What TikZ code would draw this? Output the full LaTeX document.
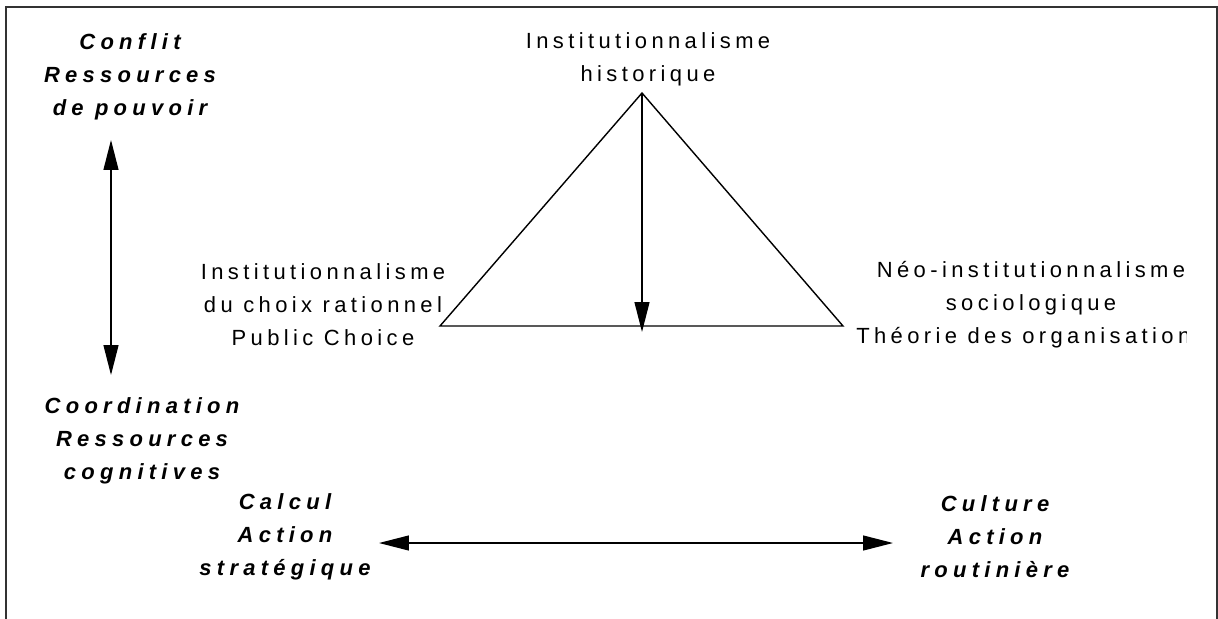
\documentclass[tikz,border=0pt]{standalone}
\usepackage{fontspec}
\newfontfamily\diagfont{Liberation Sans}[LetterSpace=20]
\newfontfamily\axisfont{Liberation Sans}[LetterSpace=24]
\usetikzlibrary{arrows.meta}

\tikzset{
  theory/.style={align=center, inner sep=0pt, text=black,
    font=\diagfont\fontsize{12.5}{18.8}\selectfont},
  axislabel/.style={theory,
    font=\axisfont\fontsize{12.5}{18.8}\selectfont\bfseries\itshape},
  edge/.style={line width=0.8pt, line join=miter},
  twoway/.style={line width=0.7pt,
    {Triangle[length=0.6cm,width=0.3cm]}-{Triangle[length=0.6cm,width=0.3cm]}},
  oneway/.style={line width=0.7pt, -{Triangle[length=0.6cm,width=0.3cm]}},
}

\begin{document}
\begin{tikzpicture}[x=0.02cm,y=-0.02cm]
\useasboundingbox (0,0) rectangle (1218,619);

% frame
\draw[line width=1.1pt, black!80] (6,619) -- (6,7) -- (1217,7) -- (1217,619);

% the three schools
\draw (648,59) node[theory] (hist) {Institutionnalisme\\historique};
\draw (323,305) node[theory] (rc) {Institutionnalisme\\du choix rationnel\\Public Choice};
\begin{scope}
\clip (0,0) rectangle (1186,619);
\draw (1031,305) node[theory] (socio) {N\'eo-institutionnalisme\\sociologique\\Th\'eorie des organisations};
\end{scope}

% triangle
\coordinate (apex) at (642,93);
\coordinate (left) at (440,326);
\coordinate (right) at (843,326);
\coordinate (foot) at (642,332);
\draw[edge] (apex) -- (left) -- (right) -- cycle;
\draw[oneway] (apex) -- (foot);

% axes
\draw (130,77) node[axislabel] (conflit) {Conflit\\Ressources\\de pouvoir};
\draw (142,441) node[axislabel] (coord) {Coordination\\Ressources\\cognitives};
\draw (285,537) node[axislabel] (calcul) {Calcul\\Action\\strat\'egique};
\draw (995,537) node[axislabel] (culture) {Culture\\Action\\routini\`ere};

\coordinate (pouvoir) at (111,140);
\coordinate (cognit) at (111,375);
\coordinate (strat) at (379,543);
\coordinate (routine) at (893,543);
\draw[twoway] (pouvoir) -- (cognit);
\draw[twoway] (strat) -- (routine);
\end{tikzpicture}
\end{document}
